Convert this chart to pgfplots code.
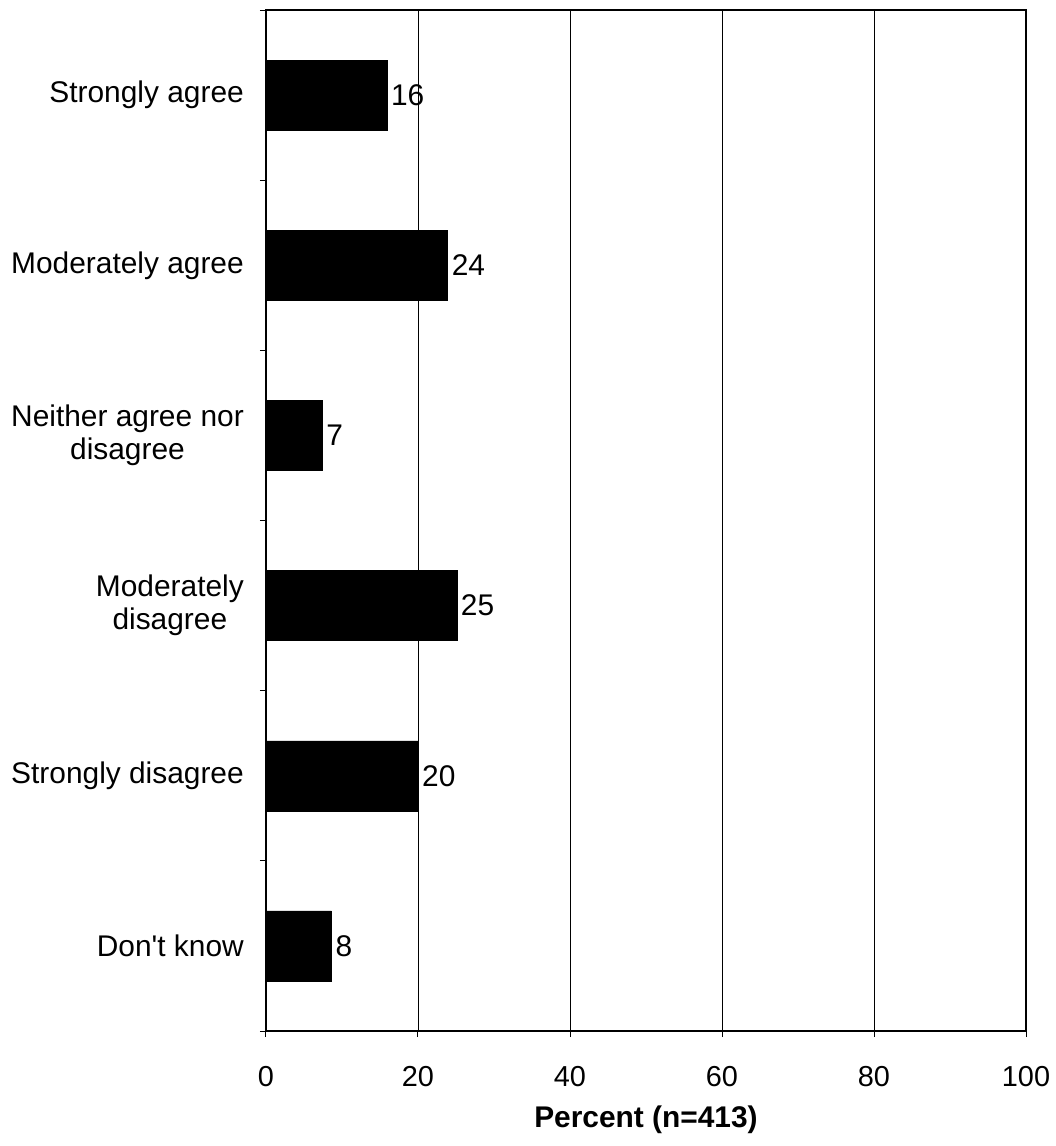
\documentclass[border=0pt]{standalone}
\usepackage{fontspec}
\setmainfont{Liberation Sans}[Ligatures=TeXOff]
\usepackage{pgfplots}
\pgfplotsset{compat=1.18}
\begin{document}
\begin{tikzpicture}
\useasboundingbox (-266bp,-115bp) rectangle (790bp,1031bp);
\begin{axis}[
  scale only axis,
  width=760bp, height=1021bp,
  at={(0,0)}, anchor=south west,
  xbar, bar width=70bp,
  xmin=0, xmax=100,
  ymin=-0.5, ymax=5.5, y dir=reverse,
  xtick={0,20,...,100},
  ytick={0,...,5},
  yticklabels={Strongly agree, Moderately agree, {Neither agree nor\\disagree}, {Moderately\\disagree}, Strongly disagree, Don't know},
  minor ytick={-0.5,0.5,...,5.5},
  major y tick style={draw=none},
  minor tick length=6bp,
  major tick length=6bp,
  tick align=outside,
  xtick pos=bottom, ytick pos=left,
  xmajorgrids, major grid style={black, line width=0.8bp},
  axis line style={black, line width=2bp},
  tick style={black, line width=1bp},
  /pgf/number format/assume math mode=true,
  tick label style={font=\fontsize{29}{33}\selectfont},
  yticklabel style={font=\fontsize{30}{33}\selectfont, align=center, inner sep=0pt, xshift=-16bp},
  xticklabel style={yshift=-26bp},
  xlabel={\textbf{Percent (n=413)}},
  xlabel style={font=\fontsize{30}{33}\selectfont, at={(axis description cs:0.5,0)}, anchor=center, yshift=-89bp},
  point meta=explicit symbolic,
  nodes near coords,
  nodes near coords style={font=\fontsize{30}{33}\selectfont, anchor=west, inner sep=4bp},
]
\addplot[fill=black, draw=black] coordinates {(15.9,0) [16] (23.9,1) [24] (7.4,2) [7] (25.1,3) [25] (20.0,4) [20] (8.6,5) [8]};
\end{axis}
\end{tikzpicture}
\end{document}
